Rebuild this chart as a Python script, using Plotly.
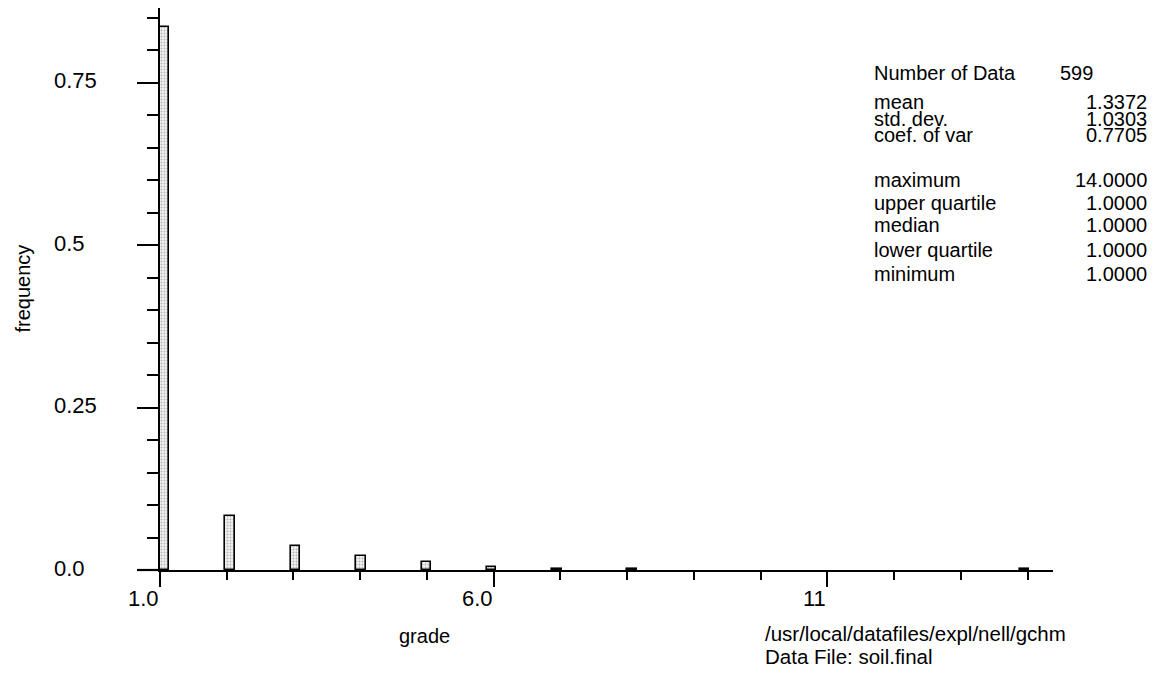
import plotly.graph_objects as go

# ---- data ----
grade_values = [1, 2, 3, 4, 5, 6, 7, 8, 14]
frequencies = [0.8364, 0.0835, 0.0367, 0.0217, 0.0117, 0.0050, 0.0017, 0.0017, 0.0017]
bin_start = 1.0
bin_width = 0.14

x_tick_values = [1, 6, 11]
x_tick_labels = ["1.0", "6.0", "11"]
y_tick_values = [0.0, 0.25, 0.5, 0.75]
y_tick_labels = ["0.0", "0.25", "0.5", "0.75"]

stat_labels = ["Number of Data", "mean", "std. dev.", "coef. of var", "maximum",
               "upper quartile", "median", "lower quartile", "minimum"]
stat_values = ["599", "1.3372", "1.0303", "0.7705", "14.0000",
               "1.0000", "1.0000", "1.0000", "1.0000"]
# vertical text positions in page pixels
stat_rows_px = [70, 100, 117, 133, 178, 201, 223, 248, 272]

# ---- geometry (page pixels; page body has an 8px margin) ----
OFF = 8
W, H = 1160 - OFF, 673 - OFF
L, R, T, B = 160, 1053, 5, 570
FONT = "Liberation Sans, Arial, Helvetica, sans-serif"

def px(x):
    return (x - L) / (R - L)

def py(y):
    return (B - y) / (B - T)

# histogram bins containing each value
bin_index = [int((v - bin_start + 1e-9) // bin_width) for v in grade_values]
bin_centers = [bin_start + (i + 0.5) * bin_width for i in bin_index]

fig = go.Figure()
fig.add_trace(go.Bar(
    x=bin_centers, y=frequencies, width=bin_width,
    marker=dict(color="#e6e6e6", line=dict(color="black", width=1.6),
                pattern=dict(shape=".", fgcolor="#777777", bgcolor="#f2f2f2",
                             size=3, solidity=0.35)),
    showlegend=False, hoverinfo="skip",
))

fig.update_layout(
    width=W, height=H,
    margin=dict(l=L - OFF, r=(1160 - R), t=max(T - OFF, 0), b=673 - B),
    paper_bgcolor="white", plot_bgcolor="white",
    bargap=0, showlegend=False,
    font=dict(family=FONT, color="black"),
    xaxis=dict(range=[1, 14.38], showgrid=False, zeroline=False,
               showline=True, linecolor="black", linewidth=2.2,
               ticks="outside", tick0=1, dtick=5, ticklen=15, tickwidth=1.8,
               tickcolor="black", showticklabels=False,
               minor=dict(ticks="outside", dtick=1, tick0=1, ticklen=8,
                          tickwidth=1.8, tickcolor="black", showgrid=False)),
    yaxis=dict(range=[0, 0.865], showgrid=False, zeroline=False,
               showline=True, linecolor="black", linewidth=2.2,
               ticks="outside", tick0=0, dtick=0.25, ticklen=21, tickwidth=1.8,
               tickcolor="black", showticklabels=False,
               minor=dict(ticks="outside", dtick=0.05, tick0=0, ticklen=11,
                          tickwidth=1.8, tickcolor="black", showgrid=False)),
)

# extension of x axis line to the left of y axis
fig.add_shape(type="line", xref="paper", yref="paper",
              x0=px(137), x1=0, y0=0, y1=0,
              line=dict(color="black", width=2.2))

ann = []
# x tick labels (right edge at the tick)
for v, t in zip(x_tick_values, x_tick_labels):
    ann.append(dict(x=v, y=py(599), xref="x", yref="paper", text=t,
                    xanchor="right", yanchor="middle", xshift=1,
                    showarrow=False, font=dict(size=22, family=FONT)))
# y tick labels (left-aligned)
for v, t in zip(y_tick_values, y_tick_labels):
    ann.append(dict(x=px(52), y=v, xref="paper", yref="y", text=t,
                    xanchor="left", yanchor="middle", yshift=2,
                    showarrow=False, font=dict(size=22, family=FONT)))
# axis titles
ann.append(dict(x=px(424), y=py(636), xref="paper", yref="paper", text="grade",
                xanchor="center", yanchor="middle", showarrow=False,
                font=dict(size=20, family=FONT)))
ann.append(dict(x=px(23), y=py(287), xref="paper", yref="paper", text="frequency",
                textangle=-90, xanchor="center", yanchor="middle", showarrow=False,
                font=dict(size=20, family=FONT)))
# file info
ann.append(dict(x=px(763), y=py(634), xref="paper", yref="paper",
                text="/usr/local/datafiles/expl/nell/gchm",
                xanchor="left", yanchor="middle", showarrow=False,
                font=dict(size=20.5, family=FONT)))
ann.append(dict(x=px(763), y=py(657), xref="paper", yref="paper",
                text="Data File: soil.final",
                xanchor="left", yanchor="middle", showarrow=False,
                font=dict(size=20.5, family=FONT)))
# statistics block
for i, (lab, val, yy) in enumerate(zip(stat_labels, stat_values, stat_rows_px)):
    ann.append(dict(x=px(872), y=py(yy), xref="paper", yref="paper", text=lab,
                    xanchor="left", yanchor="middle", showarrow=False,
                    font=dict(size=20, family=FONT)))
    if i == 0:
        ann.append(dict(x=px(1058), y=py(yy), xref="paper", yref="paper", text=val,
                        xanchor="left", yanchor="middle", showarrow=False,
                        font=dict(size=20, family=FONT)))
    else:
        ann.append(dict(x=px(1149), y=py(yy), xref="paper", yref="paper", text=val,
                        xanchor="right", yanchor="middle", showarrow=False,
                        font=dict(size=20, family=FONT)))
fig.update_layout(annotations=ann)

fig.write_html("out.html")
